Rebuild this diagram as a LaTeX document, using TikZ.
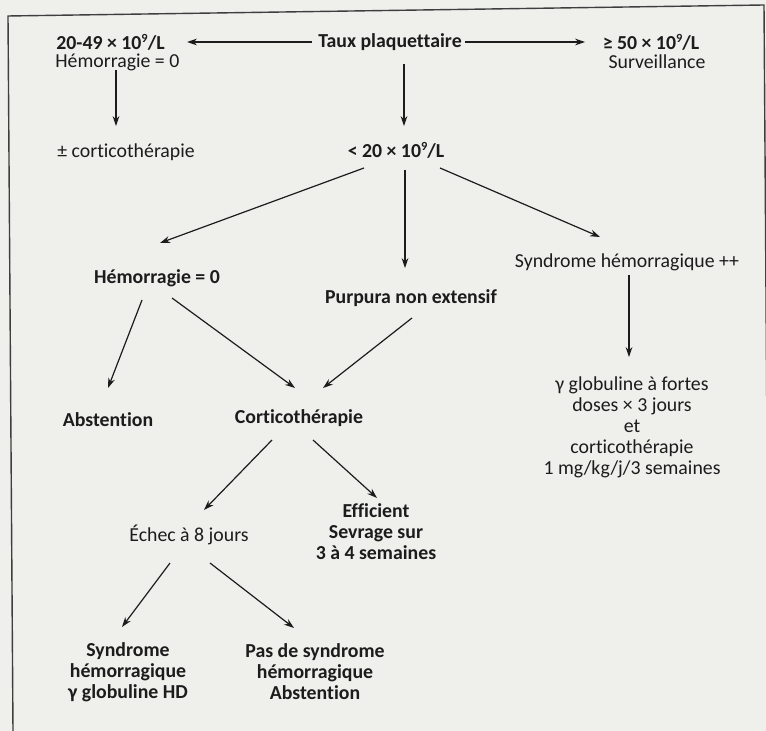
\documentclass[tikz,border=0pt]{standalone}
\usepackage{fontspec}
\setmainfont{Carlito}[Ligatures=NoCommon]
\usetikzlibrary{arrows.meta,calc}
\definecolor{paper}{RGB}{239,239,236}
\definecolor{ink}{RGB}{28,28,28}
% small raised exponent for the platelet units
\newcommand{\expnine}{\raisebox{0.75ex}{\fontsize{6.2}{6.2}\selectfont 9}}

\begin{document}
\begin{tikzpicture}[x=0.5pt,y=-0.5pt,
  lbl/.style={inner sep=0pt, text=ink, align=center,
    font=\fontsize{9.9}{10.5}\selectfont},
  blbl/.style={lbl, font=\fontsize{9.9}{10.5}\selectfont\bfseries},
  link/.style={draw=ink, line width=0.6pt,
    -{Stealth[length=5pt,width=3.4pt]}},
  frameline/.style={draw=ink!85, line width=0.7pt}
]
% page and frame
\fill[paper] (0,0) rectangle (766,731);
\useasboundingbox (0,0) rectangle (766,731);
\draw[frameline] (13,731) -- (8,16) -- (764,5) -- (769,731);

% first row
\node[blbl] (taux) at (390,42) {Taux plaquettaire};
\node[blbl, anchor=west] (a20)  at (56,42) {20-49 × 10\expnine/L};
\node[lbl, anchor=west]  (a20h) at (55,62) {Hémorragie = 0};
\node[blbl] (ge50) at (651,42) {≥ 50 × 10\expnine/L};
\node[lbl]  (surv) at (657,62) {Surveillance};

% second row
\node[lbl, anchor=west] (pmcort) at (57,152) {± corticothérapie};
\node[blbl] (lt20)   at (396,150) {< 20 × 10\expnine/L};

% third row
\node[blbl] (hem0) at (157,278) {Hémorragie = 0};
\node[blbl] (purp) at (411,298) {Purpura non extensif};
\node[lbl]  (synd) at (627,262) {Syndrome hémorragique ++};

% fourth row
\node[blbl] (abst)  at (108,420) {Abstention};
\node[blbl] (cort)  at (299,418) {Corticothérapie};
\node[lbl]  (gamma) at (632,427) {γ globuline à fortes\\doses × 3 jours\\et\\corticothérapie\\1 mg/kg/j/3 semaines};

% fifth row
\node[lbl]  (echec) at (189,535) {Échec à 8 jours};
\node[blbl] (eff)   at (376,532) {Efficient\\Sevrage sur\\3 à 4 semaines};

% last row
\node[blbl] (synhd) at (128,672) {Syndrome\\hémorragique\\γ globuline HD};
\node[blbl] (pas)   at (315,672) {Pas de syndrome\\hémorragique\\Abstention};

% connectors
\draw[link] ($(taux)+(-78,0)$) -- ($(a20.east)+(22,0)$);
\draw[link] ($(taux)+(75,0)$) -- ($(ge50)+(-66,0)$);
\draw[link] ($(a20h.west)+(61,8)$) -- ($(a20h.west)+(61,64)$);
\draw[link] ($(taux)+(14,22)$) -- ($(lt20)+(8,-24)$);
\draw[link] ($(lt20)+(-32,18)$) -- ($(hem0)+(3,-35)$);
\draw[link] ($(lt20)+(9,20)$) -- ($(purp)+(-6,-30)$);
\draw[link] ($(lt20)+(44,18)$) -- ($(synd)+(-27,-25)$);
\draw[link] ($(hem0)+(-15,22)$) -- ($(abst)+(0,-32)$);
\draw[link] ($(hem0)+(15,20)$) -- ($(cort)+(-4,-30)$);
\draw[link] ($(purp)+(1,20)$) -- ($(cort)+(24,-30)$);
\draw[link] ($(synd)+(2,13)$) -- ($(gamma)+(-3,-70)$);
\draw[link] ($(cort)+(-27,22)$) -- ($(echec)+(15,-25)$);
\draw[link] ($(cort)+(14,22)$) -- ($(eff)+(1,-34)$);
\draw[link] ($(echec)+(-19,28)$) -- ($(synhd)+(-6,-45)$);
\draw[link] ($(echec)+(21,28)$) -- ($(pas)+(-21,-44)$);
\end{tikzpicture}
\end{document}
